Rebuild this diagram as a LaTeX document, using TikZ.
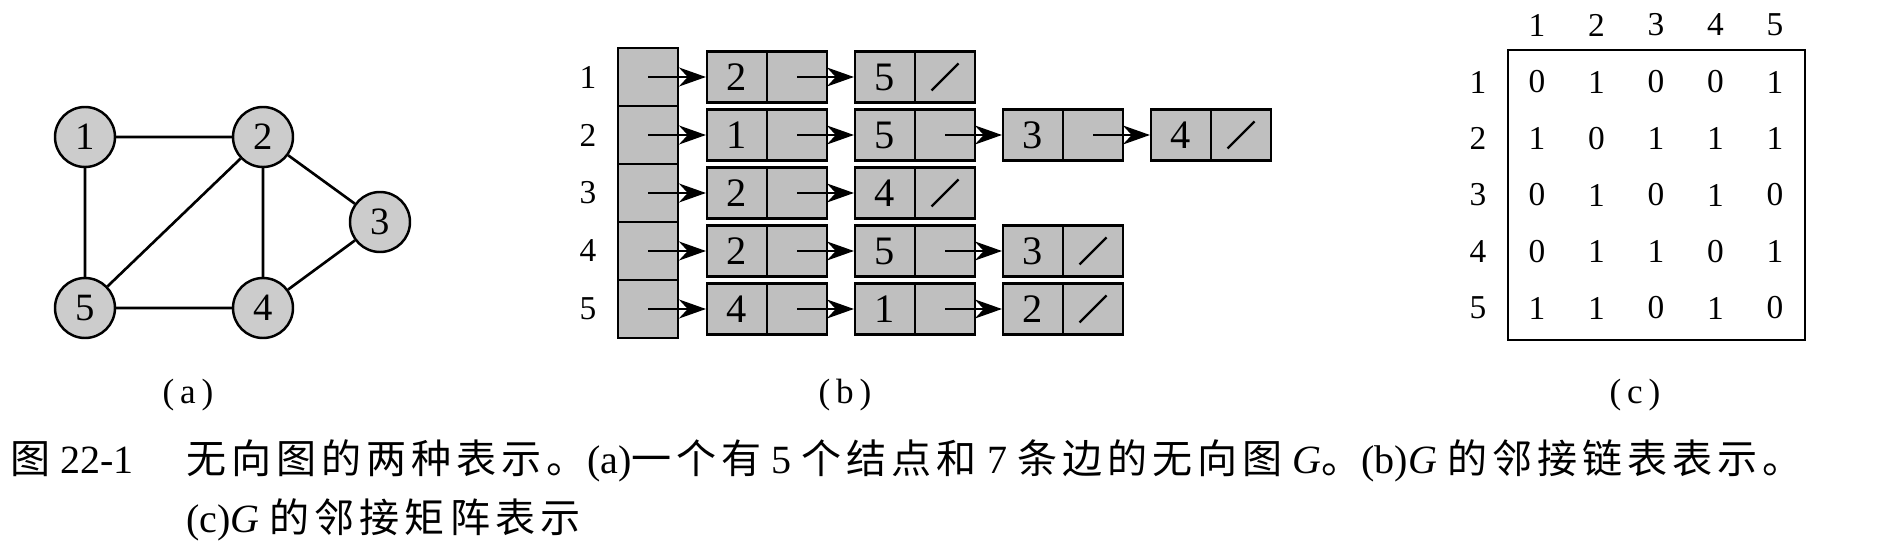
\documentclass[tikz,border=0pt]{standalone}
\usepackage{fontspec}
\setmainfont{Liberation Serif}
\newfontfamily\cjk[LetterSpace=12.5]{Noto Sans CJK SC}
\usetikzlibrary{arrows.meta,positioning}

\tikzset{
  vertex/.style={circle,draw,line width=1.4pt,fill=black!20,minimum size=1.2cm,inner sep=0pt,font=\fontsize{22}{22}\selectfont},
  edge/.style={line width=1.5pt},
  headcell/.style={rectangle,draw,line width=1.2pt,fill=black!25,minimum width=1.2cm,minimum height=1.16cm,inner sep=0pt},
  keycell/.style={rectangle,draw,line width=1.2pt,fill=black!25,minimum width=1.2cm,minimum height=1.02cm,inner sep=0pt,font=\fontsize{23}{23}\selectfont},
  link/.style={line width=1.4pt,-{Stealth[length=0.54cm,width=0.38cm]}},
  nil/.style={line width=1.3pt},
  lbl/.style={inner sep=0pt,font=\fontsize{19}{19}\selectfont},
  sublbl/.style={inner sep=0pt,font=\fontsize{20}{20}\selectfont},
  captext/.style={anchor=base west,inner sep=0pt,font=\fontsize{22.8}{27}\selectfont},
}

\begin{document}
\begin{tikzpicture}
\useasboundingbox (0,0) rectangle (38.06,11.02);

% (a) the graph
\node[vertex] (v1) at (1.70,8.28) {1};
\node[vertex] (v2) at (5.26,8.28) {2};
\node[vertex] (v3) at (7.60,6.58) {3};
\node[vertex] (v4) at (5.26,4.86) {4};
\node[vertex] (v5) at (1.70,4.86) {5};
\draw[edge] (v1) -- (v2) (v1) -- (v5) (v2) -- (v5) (v2) -- (v4)
  (v2) -- (v3) (v3) -- (v4) (v5) -- (v4);
\node[sublbl] (suba) at (3.76,3.12) {(\,a\,)};

% (b) adjacency lists
\foreach \r/\n/\lst in {1/2/{2,5},2/4/{1,5,3,4},3/2/{2,4},4/3/{2,5,3},5/3/{4,1,2}} {
  \pgfmathsetmacro\yy{9.48-1.16*(\r-1)}
  \node[lbl] (l\r) at (11.76,\yy) {\r};
  \node[headcell] (h\r) at (12.96,\yy) {};
  \foreach \v [count=\c] in \lst {
    \node[keycell] (k\r-\c) at ({14.74+2.96*(\c-1)},\yy) {\v};
    \node[keycell] (p\r-\c) at ({15.94+2.96*(\c-1)},\yy) {};
  }
  \draw[link] (h\r.center) -- (k\r-1.west);
  \foreach \c in {2,...,\n} {
    \pgfmathtruncatemacro\prev{\c-1}
    \draw[link] (p\r-\prev.center) -- (k\r-\c.west);
  }
  \draw[nil] ([shift={(-0.27,-0.27)}]p\r-\n.center) -- ([shift={(0.27,0.27)}]p\r-\n.center);
}
\node[sublbl] (subb) at (16.90,3.12) {(\,b\,)};

% (c) adjacency matrix
\node[draw,line width=1.2pt,minimum width=5.94cm,minimum height=5.8cm] (mbox) at (33.13,7.12) {};
\foreach \j in {1,...,5}
  \node[lbl] (c\j) at ({30.74+1.19*(\j-1)},10.52) {\j};
\foreach \i/\rowv in {1/{0,1,0,0,1},2/{1,0,1,1,1},3/{0,1,0,1,0},4/{0,1,1,0,1},5/{1,1,0,1,0}} {
  \node[lbl] (r\i) at (29.56,{9.38-1.13*(\i-1)}) {\i};
  \foreach \v [count=\j] in \rowv
    \node[lbl] (m\i-\j) at ({30.74+1.19*(\j-1)},{9.38-1.13*(\i-1)}) {\v};
}
\node[sublbl] (subc) at (32.70,3.12) {(\,c\,)};

% caption
\node[captext] (fig) at (0.20,1.56) {{\cjk 图} 22-1};
\node[captext] (cap1) at (3.72,1.56) {{\cjk 无向图的两种表示。}(a){\cjk 一个有} 5 {\cjk 个结点和} 7 {\cjk 条边的无向图} \textit{G}{\cjk 。}(b)\textit{G} {\cjk 的邻接链表表示。}};
\node[captext] (cap2) at (3.72,0.38) {(c)\textit{G} {\cjk 的邻接矩阵表示}};
\end{tikzpicture}
\end{document}
